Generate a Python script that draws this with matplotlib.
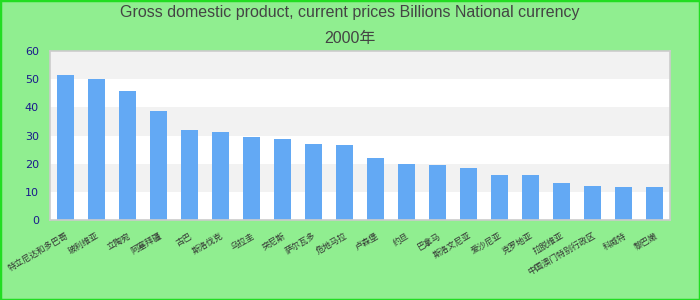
import numpy as np
import matplotlib.pyplot as plt
from matplotlib.patches import Rectangle

# labels rendered as missing glyphs in the reference; names guessed by length
countries = ['特立尼达和多巴哥', '玻利维亚', '立陶宛', '阿塞拜疆', '古巴', '斯洛伐克',
             '乌拉圭', '突尼斯', '萨尔瓦多', '危地马拉', '卢森堡', '约旦', '巴拿马',
             '斯洛文尼亚', '爱沙尼亚', '克罗地亚', '拉脱维亚', '中国澳门特别行政区',
             '科威特', '黎巴嫩']
gdp = [51.5, 50.0, 45.8, 38.7, 31.9, 31.2, 29.5, 28.8, 27.0, 26.6,
       22.0, 19.9, 19.5, 18.5, 16.0, 16.0, 13.1, 12.1, 11.8, 11.7]
yticks = [0, 10, 20, 30, 40, 50, 60]
title = 'Gross domestic product, current prices Billions National currency\n2000年'

fams = ['Liberation Sans', 'Noto Sans CJK SC', 'DejaVu Sans']

fig = plt.figure(figsize=(7, 3), dpi=100, facecolor='#90ee90')
fig.patches.append(Rectangle((0, 0), 1, 1, transform=fig.transFigure,
                             fill=False, edgecolor='#22dd22', linewidth=2.5))
ax = fig.add_axes([50 / 700, 80 / 300, 620 / 700, 169 / 300])
ax.set_facecolor('white')

# alternating horizontal bands
for i in range(len(yticks) - 1):
    if i % 2 == 1:
        ax.axhspan(yticks[i], yticks[i + 1], color='#f2f2f2', zorder=0, lw=0)

x = np.arange(len(countries))
ax.bar(x, gdp, width=0.55, color='#63a9f4', zorder=2)

ax.set_xlim(-0.5, len(countries) - 0.5)
ax.set_ylim(0, 60)
ax.set_yticks(yticks)
ax.set_xticks(x)
ax.set_xticklabels(countries, rotation=30, ha='right', rotation_mode='anchor',
                   fontsize=6.1, color='#333333', family=['Noto Sans CJK SC', 'DejaVu Sans'])
ax.tick_params(axis='y', length=0, pad=8, labelsize=8, labelcolor='#1a1a8c')
ax.tick_params(axis='x', length=0, pad=8)
for s in ax.spines.values():
    s.set_color('#cccccc')
    s.set_linewidth(1.2)

fig.suptitle(title, y=0.982, fontsize=11.5, color='#444444', family=fams,
             linespacing=1.85)

fig.savefig('out.png', dpi=100, facecolor=fig.get_facecolor())
